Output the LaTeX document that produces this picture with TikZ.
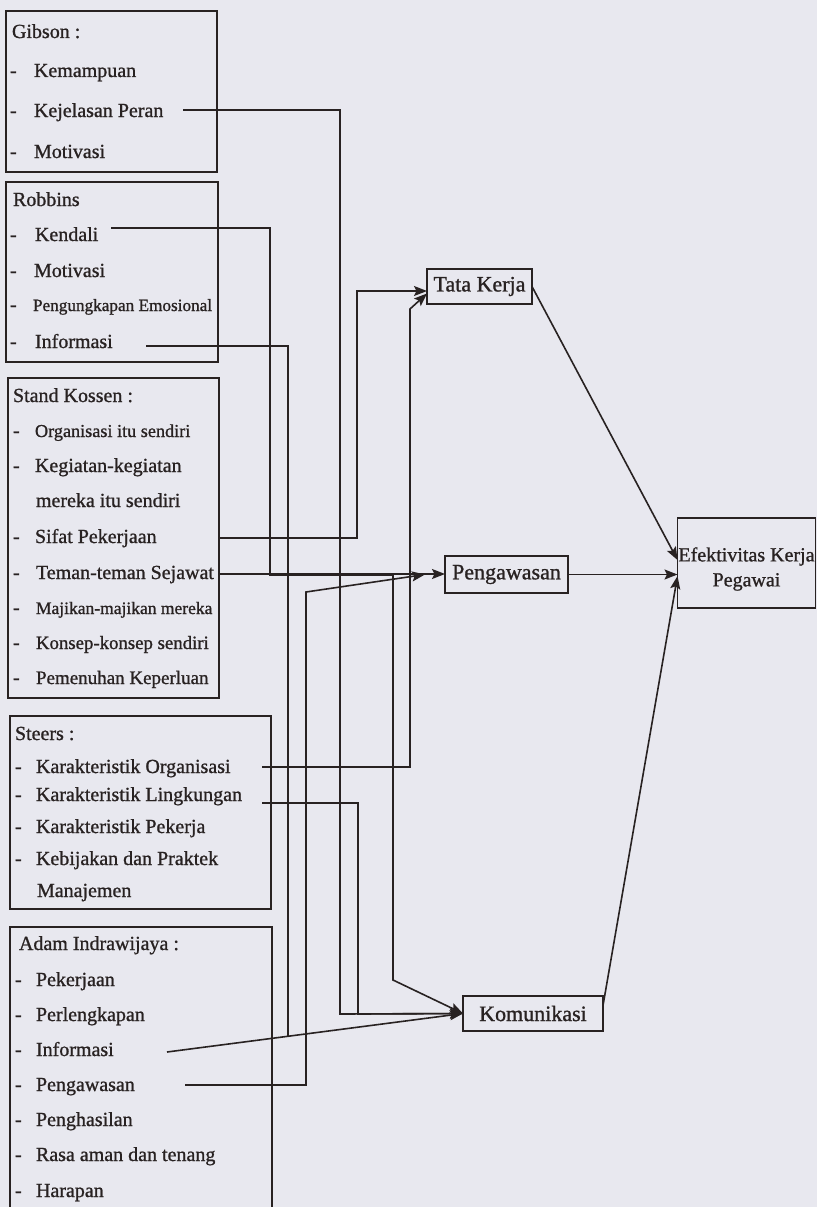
\documentclass[tikz,border=0pt]{standalone}
\usepackage{fontspec}
\setmainfont{Liberation Serif}
\newfontfamily\inkfont{Liberation Serif}[FakeBold=1]
\usetikzlibrary{arrows.meta}
\definecolor{bgc}{RGB}{232,232,239}
\definecolor{ink}{RGB}{40,34,34}
\tikzset{
  every node/.style={inner sep=0pt, outer sep=0pt},
  grp/.style={draw=ink, line width=1.6pt, anchor=north west},
  txt/.style={anchor=base west, text=ink, font=\inkfont\fontsize{20}{22}\selectfont},
  small/.style={txt, font=\inkfont\fontsize{17.5}{20}\selectfont},
  tgt/.style={draw=ink, line width=1.6pt, text=ink, font=\inkfont\fontsize{22}{24}\selectfont, align=center},
  con/.style={draw=ink, line width=1.6pt},
  arr/.style={con, -{Stealth[length=13pt,width=10pt,inset=2.5pt]}},
}
\begin{document}
\begin{tikzpicture}[x=1pt,y=-1pt]
\path[use as bounding box] (0,0) rectangle (817,1207);
\clip (0,0) rectangle (817,1207);
\fill[bgc] (0,0) rectangle (817,1207);

% ---------- group boxes ----------
\node[grp, minimum width=211pt, minimum height=161pt] (gibsonbox) at (6,11) {};
\node[grp, minimum width=212pt, minimum height=180pt] (robbinsbox) at (6,182) {};
\node[grp, minimum width=211pt, minimum height=320pt] (standbox) at (8,378) {};
\node[grp, minimum width=261pt, minimum height=193pt] (steersbox) at (10,716) {};
\node[grp, minimum width=262pt, minimum height=300pt] (adambox) at (10,927) {};

% ---------- Gibson ----------
\node[txt] (gh) at (12,38) {Gibson :};
\node[txt] (gd1) at (10,77) {-};  \node[txt] (g1) at (34,77) {Kemampuan};
\node[txt] (gd2) at (10,117) {-}; \node[txt] (g2) at (34,117) {Kejelasan Peran};
\node[txt] (gd3) at (10,158) {-}; \node[txt] (g3) at (34,158) {Motivasi};

% ---------- Robbins ----------
\node[txt] (rh) at (13,206) {Robbins};
\node[txt] (rd1) at (10,241) {-}; \node[txt] (r1) at (35,241) {Kendali};
\node[txt] (rd2) at (10,277) {-}; \node[txt] (r2) at (34,277) {Motivasi};
\node[txt] (rd3) at (10,311) {-}; \node[txt, font=\inkfont\fontsize{17.2}{20}\selectfont] (r3) at (33,311) {Pengungkapan Emosional};
\node[txt] (rd4) at (10,348) {-}; \node[txt] (r4) at (35,348) {Informasi};

% ---------- Stand Kossen ----------
\node[txt] (sh) at (13,402) {Stand Kossen :};
\node[txt] (sd1) at (13,437) {-}; \node[txt, font=\inkfont\fontsize{18.2}{20}\selectfont] (s1) at (35,437) {Organisasi itu sendiri};
\node[txt] (sd2) at (13,472) {-}; \node[txt] (s2) at (35,472) {Kegiatan-kegiatan};
\node[txt] (s2b) at (36,507) {mereka itu sendiri};
\node[txt] (sd3) at (13,543) {-}; \node[txt] (s3) at (35,543) {Sifat Pekerjaan};
\node[txt] (sd4) at (13,579) {-}; \node[txt] (s4) at (36,579) {Teman-teman Sejawat};
\node[txt] (sd5) at (13,614) {-}; \node[small] (s5) at (36,614) {Majikan-majikan mereka};
\node[txt] (sd6) at (13,649) {-}; \node[txt, font=\inkfont\fontsize{18.8}{20}\selectfont] (s6) at (36,649) {Konsep-konsep sendiri};
\node[txt] (sd7) at (13,684) {-}; \node[txt, font=\inkfont\fontsize{19}{20}\selectfont] (s7) at (36,684) {Pemenuhan Keperluan};

% ---------- Steers ----------
\node[txt] (th) at (15,740) {Steers :};
\node[txt] (td1) at (15,773) {-}; \node[txt] (t1) at (36,773) {Karakteristik Organisasi};
\node[txt] (td2) at (15,801) {-}; \node[txt] (t2) at (36,801) {Karakteristik Lingkungan};
\node[txt] (td3) at (15,833) {-}; \node[txt] (t3) at (36,833) {Karakteristik Pekerja};
\node[txt] (td4) at (15,865) {-}; \node[txt] (t4) at (36,865) {Kebijakan dan Praktek};
\node[txt] (t4b) at (37,897) {Manajemen};

% ---------- Adam Indrawijaya ----------
\node[txt] (ah) at (19,950) {Adam Indrawijaya :};
\node[txt] (ad1) at (15,986) {-};  \node[txt] (a1) at (36,986) {Pekerjaan};
\node[txt] (ad2) at (15,1021) {-}; \node[txt] (a2) at (36,1021) {Perlengkapan};
\node[txt] (ad3) at (15,1056) {-}; \node[txt] (a3) at (36,1056) {Informasi};
\node[txt] (ad4) at (15,1091) {-}; \node[txt] (a4) at (36,1091) {Pengawasan};
\node[txt] (ad5) at (15,1126) {-}; \node[txt] (a5) at (36,1126) {Penghasilan};
\node[txt] (ad6) at (15,1161) {-}; \node[txt] (a6) at (36,1161) {Rasa aman dan tenang};
\node[txt] (ad7) at (15,1197) {-}; \node[txt] (a7) at (36,1197) {Harapan};

% ---------- target boxes ----------
\node[tgt, minimum width=105pt, minimum height=35pt] (tata) at (479.5,286.5) {Tata Kerja};
\node[tgt, minimum width=123pt, minimum height=37pt] (peng) at (506.5,574.5) {Pengawasan};
\node[tgt, minimum width=140pt, minimum height=35pt] (komu) at (533,1013.5) {Komunikasi};
\node[tgt, minimum width=138pt, minimum height=90pt] (efek) at (746.5,563) {};
\node[text=ink, align=center, font=\inkfont\fontsize{20}{25}\selectfont] (efekt) at (746.5,569) {Efektivitas Kerja\\Pegawai};

% ---------- connector start points ----------
\coordinate (sKej) at (183,110);
\coordinate (sKen) at (111,228);
\coordinate (sRI) at (146,346);
\coordinate (sSif) at (219,538);
\coordinate (sTem) at (219,574);
\coordinate (sKO) at (262,767);
\coordinate (sKL) at (262,803);
\coordinate (sAI) at (167,1052);
\coordinate (sAP) at (185,1085);

% ---------- connectors ----------
\draw[arr] (sKej) -- (340,110) -- (340,1014) -- (komu.west);
\draw[arr] (sKL) -- (358,803) -- (358,1014) -- (komu.west);
\draw[arr] (sKen) -- (270,228) -- (270,575) -- (393,575) -- (393,980) -- (komu.west);
\draw[arr] (sAI) -- (komu.west);
\draw[con] (sRI) -- (288,346) -- (288,1036.3);

\draw[arr] (sSif) -- (357,538) -- (357,291) -- ([yshift=-4.5pt]tata.west);
\draw[arr] (sKO) -- (410,767) -- (410,309) -- ([yshift=-7pt]tata.west);

\draw[arr] (sTem) -- (sTem -| peng.west);
\draw[arr] (sAP) -- (306,1085) -- (306,592) -- ([xshift=-20pt]peng.west);

\draw[arr] (tata.east) -- ([yshift=3pt]efek.west);
\draw[arr] (peng.east) -- (peng.east -| efek.west);
\draw[arr] ([yshift=8pt]komu.east) -- ([yshift=-13pt]efek.west);
\end{tikzpicture}
\end{document}
